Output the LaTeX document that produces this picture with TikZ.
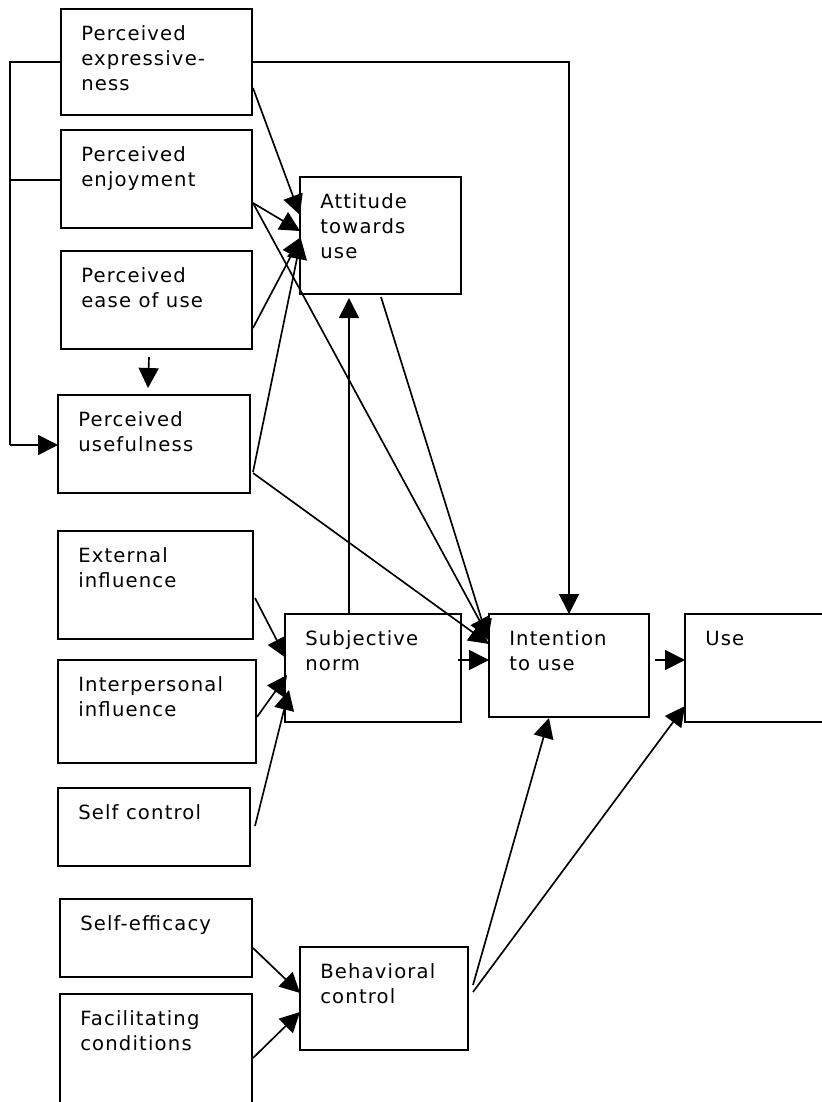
\documentclass[tikz,border=0pt]{standalone}
\usepackage{fontspec}
\setmainfont{DejaVu Sans}[LetterSpace=6]
\usetikzlibrary{arrows.meta,calc}
\newcommand\mybox[6]{%
  \node[boxst, minimum width={(#4-#2)*0.75pt}, minimum height={(#5-#3)*0.75pt}] (#1) at ({(#2+#4)/2},{(#3+#5)/2}) {};
  \node[txtst] (#1t) at (#2+20,#3+31.5) {\begin{tabular}[t]{@{}l@{}}#6\end{tabular}};
}
\begin{document}
\begin{tikzpicture}[x=0.75pt,y=-0.75pt,
  boxst/.style={draw, line width=1.5pt, inner sep=0pt, outer sep=0pt},
  txtst/.style={anchor=base west, inner sep=0pt, font=\fontsize{14.7}{18.75}\selectfont},
  conn/.style={draw, line width=1.25pt},
  arr/.style={conn, -{Triangle[length=15pt,width=15pt]}}]
\useasboundingbox (0,0) rectangle (821,1102);
\mybox{pex}{61}{9}{252}{115}{Perceived\\expressive-\\ness}
\mybox{penj}{61}{130}{252}{228}{Perceived\\enjoyment}
\mybox{peou}{61}{251}{252}{349}{Perceived\\ease of use}
\mybox{pu}{58}{395}{250}{493}{Perceived\\usefulness}
\mybox{att}{300}{177}{461}{294}{Attitude\\towards\\use}
\mybox{ext}{58}{531}{253}{639}{External\\influence}
\mybox{inter}{58}{660}{256}{763}{Interpersonal\\influence}
\mybox{selfc}{58}{788}{250}{866}{Self control}
\mybox{seff}{60}{899}{252}{977}{Self-efficacy}
\mybox{fac}{60}{994}{252}{1112}{Facilitating\\conditions}
\mybox{sn}{285}{614}{461}{722}{Subjective\\norm}
\mybox{int}{489}{614}{649}{717}{Intention\\to use}
\mybox{use}{685}{614}{830}{722}{Use}
\mybox{bc}{300}{947}{468}{1050}{Behavioral\\control}
% left bus
\coordinate (bus) at (10,0);
\coordinate (a1) at ($(pex.north west)+(0,53)$);
\coordinate (a2) at ($(penj.north west)+(0,50)$);
\coordinate (a3) at ($(pu.north west)+(0,50)$);
\draw[conn] (a1) -- (a1 -| bus) -- (a3 -| bus);
\draw[conn] (a2) -- (a2 -| bus);
\draw[arr] (a3 -| bus) -- (a3);
% top line to intention
\coordinate (b1) at ($(pex.north east)+(0,53)$);
\draw[arr] (b1) -| (int.north);
% to attitude
\draw[arr] ($(pex.north east)+(1,79)$) -- ($(att.north west)+(0,38)$);
\draw[arr] ($(penj.north east)+(1,73)$) -- ($(att.north west)+(0,54)$);
\draw[arr] ($(peou.north east)+(1,77)$) -- ($(att.north west)+(1,60)$);
\draw[arr] ($(pu.north east)+(3,77)$) -- ($(att.north west)+(1,62)$);
\draw[arr] ($(sn.north west)+(64,0)$) -- ($(att.south west)+(49,4)$);
% to perceived usefulness
\draw[arr] ($(peou.south west)+(88,8)$) -- ($(pu.north west)+(90,-7)$);
% to intention
\draw[arr] ($(penj.north east)+(1,73)$) -- ($(int.north west)+(0,24)$);
\draw[arr] ($(pu.north east)+(3,78)$) -- ($(int.north west)+(0,30)$);
\draw[arr] ($(att.south west)+(81,3)$) -- ($(int.north west)+(-1,26)$);
\draw[arr] ($(sn.north east)+(-3,46)$) -- ($(int.north west)+(0,46)$);
\draw[arr] ($(bc.north east)+(5,38)$) -- ($(int.south west)+(60,1)$);
% to use
\draw[arr] ($(int.north east)+(6,46)$) -- ($(use.north west)+(0,46)$);
\draw[arr] ($(bc.north east)+(5,45)$) -- ($(use.north west)+(0,92)$);
% to subjective norm
\draw[arr] ($(ext.north east)+(2,67)$) -- ($(sn.north west)+(1,44)$);
\draw[arr] ($(inter.north east)+(1,57)$) -- ($(sn.north west)+(2,61)$);
\draw[arr] ($(selfc.north east)+(5,38)$) -- ($(sn.north west)+(4,76)$);
% to behavioral control
\draw[arr] ($(seff.north east)+(1,49)$) -- ($(bc.north west)+(0,46)$);
\draw[arr] ($(fac.north east)+(1,64)$) -- ($(bc.north west)+(0,65)$);
\end{tikzpicture}
\end{document}
